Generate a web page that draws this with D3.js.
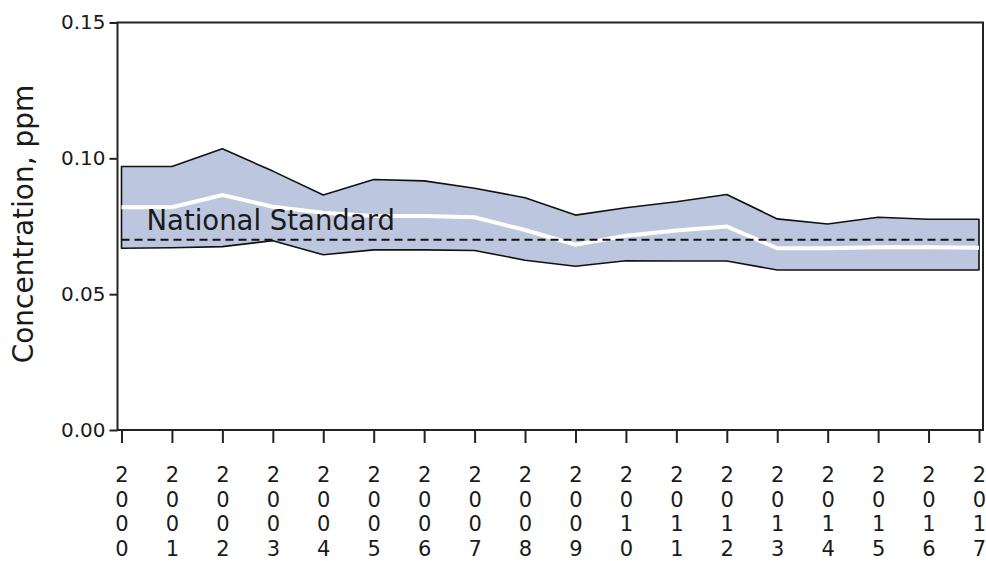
<!DOCTYPE html>
<html>
<head>
<meta charset="utf-8">
<script src="https://cdn.jsdelivr.net/npm/d3@7"></script>
<style>
  body { margin: 0; background: #fff; }
  text { font-family: "DejaVu Sans", Verdana, sans-serif; fill: #1a1a1a; }
</style>
</head>
<body>
<script>
// Chart data (ppm)
var years = [2000, 2001, 2002, 2003, 2004, 2005, 2006, 2007, 2008, 2009,
             2010, 2011, 2012, 2013, 2014, 2015, 2016, 2017];
var upper = [0.0970, 0.0970, 0.1035, 0.0953, 0.0865, 0.0922, 0.0917, 0.0890, 0.0855, 0.0791,
             0.0818, 0.0840, 0.0867, 0.0777, 0.0758, 0.0783, 0.0776, 0.0776];
var lower = [0.0669, 0.0671, 0.0675, 0.0697, 0.0645, 0.0663, 0.0663, 0.0661, 0.0625, 0.0603,
             0.0623, 0.0622, 0.0622, 0.0589, 0.0589, 0.0589, 0.0589, 0.0589];
var median = [0.0820, 0.0820, 0.0865, 0.0822, 0.0800, 0.0788, 0.0788, 0.0783, 0.0736, 0.0682,
              0.0715, 0.0734, 0.0749, 0.0669, 0.0669, 0.0673, 0.0673, 0.0671];
var standard = 0.070;
var standardLabel = "National Standard";
var yTicks = [0, 0.05, 0.10, 0.15];
var yTitle = "Concentration, ppm";

// Chart Params
var svgWidth = 986;
var svgHeight = 561;

var margin = { top: 22.5, right: 3, bottom: 131, left: 117.5 };
var width = svgWidth - margin.left - margin.right;
var height = svgHeight - margin.top - margin.bottom;

var svg = d3.select("body")
  .append("svg")
  .attr("width", svgWidth)
  .attr("height", svgHeight);

var chartGroup = svg.append("g")
  .attr("transform", `translate(${margin.left}, ${margin.top})`);

var data = years.map((y, i) => ({ year: y, hi: upper[i], lo: lower[i], med: median[i] }));

// scales
var xScale = d3.scaleLinear()
  .domain([2000, 2017])
  .range([4, width - 4]);

var yScale = d3.scaleLinear()
  .domain([0, 0.15])
  .range([height, 0]);

// band between upper and lower
var area = d3.area()
  .x(d => xScale(d.year))
  .y0(d => yScale(d.lo))
  .y1(d => yScale(d.hi));

chartGroup.append("path")
  .datum(data)
  .attr("d", d => area(d) + "Z")
  .attr("fill", "#bcc7df")
  .attr("stroke", "#111")
  .attr("stroke-width", 1.6)
  .attr("stroke-linejoin", "round");

// median line
var medLine = d3.line()
  .x(d => xScale(d.year))
  .y(d => yScale(d.med));

chartGroup.append("path")
  .datum(data)
  .attr("d", medLine)
  .attr("fill", "none")
  .attr("stroke", "#fff")
  .attr("stroke-width", 4);

// national standard
chartGroup.append("line")
  .attr("x1", xScale(2000))
  .attr("x2", xScale(2017))
  .attr("y1", yScale(standard))
  .attr("y2", yScale(standard))
  .attr("stroke", "#111")
  .attr("stroke-width", 2)
  .attr("stroke-dasharray", "8,5");

chartGroup.append("text")
  .attr("x", xScale(2000) + 25)
  .attr("y", yScale(standard) - 10)
  .attr("font-size", "27.5px")
  .text(standardLabel);

// frame
chartGroup.append("rect")
  .attr("width", width)
  .attr("height", height)
  .attr("fill", "none")
  .attr("stroke", "#222")
  .attr("stroke-width", 2);

// y axis
var leftAxis = d3.axisLeft(yScale)
  .tickValues(yTicks)
  .tickFormat(d3.format(".2f"))
  .tickSize(8)
  .tickPadding(4);

var yAxis = chartGroup.append("g").call(leftAxis);
yAxis.select(".domain").remove();
yAxis.selectAll("line").attr("stroke", "#222").attr("stroke-width", 2);
yAxis.selectAll("text")
  .attr("font-size", "20px")
  .attr("font-family", "DejaVu Sans")
  .attr("fill", "#1a1a1a");

// x axis
var bottomAxis = d3.axisBottom(xScale)
  .tickValues(years)
  .tickSize(13)
  .tickFormat("");

var xAxis = chartGroup.append("g")
  .attr("transform", `translate(0, ${height})`)
  .call(bottomAxis);
xAxis.select(".domain").remove();
xAxis.selectAll("line").attr("stroke", "#222").attr("stroke-width", 2);

// stacked digit labels
xAxis.selectAll(".tick").each(function(d) {
  var t = d3.select(this).append("text")
    .attr("text-anchor", "middle")
    .attr("font-size", "21px")
    .attr("fill", "#1a1a1a");
  String(d).split("").forEach((c, i) => {
    t.append("tspan")
      .attr("x", 0)
      .attr("y", 52 + i * 24.5)
      .text(c);
  });
});

// y axis title
svg.append("text")
  .attr("transform", "rotate(-90)")
  .attr("x", -224)
  .attr("y", 33)
  .attr("text-anchor", "middle")
  .attr("font-size", "28px")
  .text(yTitle);
</script>
</body>
</html>
